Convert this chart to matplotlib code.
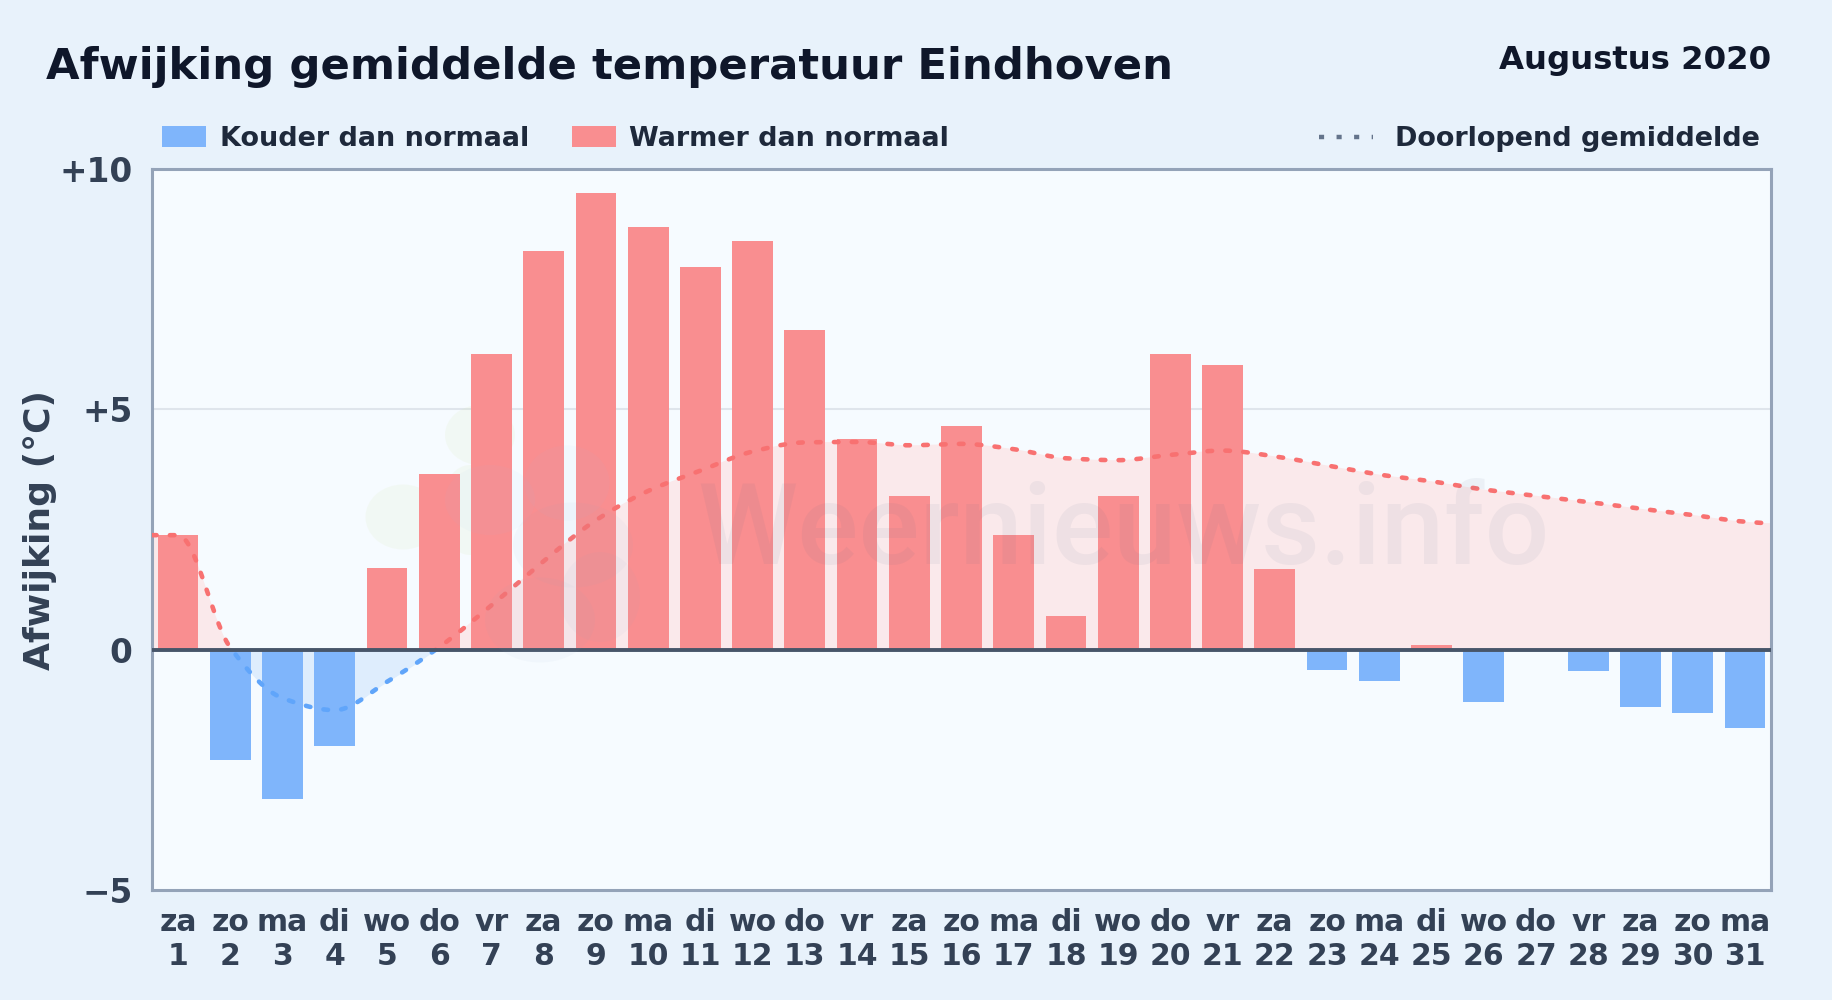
"""
Monthly temperature deviation bars for Eindhoven, August 2020.
"""
import matplotlib
matplotlib.use("Agg")
import matplotlib.pyplot as plt
import numpy as np
from matplotlib.lines import Line2D
from matplotlib.patches import Ellipse, Patch, Rectangle

days = list(range(1, 32))
weekdays = ["za", "zo", "ma", "di", "wo", "do", "vr", "za", "zo", "ma", "di", "wo", "do", "vr", "za", "zo",
            "ma", "di", "wo", "do", "vr", "za", "zo", "ma", "di", "wo", "do", "vr", "za", "zo", "ma"]
deviation = [2.38, -2.3, -3.1, -2.0, 1.7, 3.65, 6.15, 8.3, 9.5, 8.8, 7.95, 8.5, 6.65, 4.38, 3.2, 4.65,
             2.38, 0.7, 3.2, 6.15, 5.93, 1.67, -0.42, -0.65, 0.1, -1.1, 0.0, -0.45, -1.2, -1.33, -1.63]
running_mean = [2.38, 0.04, -1.01, -1.26, -0.67, 0.05, 0.92, 1.84, 2.69, 3.3, 3.72, 4.12, 4.31, 4.32, 4.25, 4.28,
                4.17, 3.98, 3.94, 4.05, 4.14, 4.02, 3.83, 3.64, 3.5, 3.33, 3.2, 3.07, 2.93, 2.8, 2.66]
y_ticks = [-5, 0, 5, 10]
y_tick_labels = ["\u22125", "0", "+5", "+10"]

RED = "#f98e90"
BLUE = "#7fb5fb"
TEXT = "#334155"


def smooth_curve(x, y, samples=40):
    # cubic hermite with monotone tangents, same look as the web chart
    x = np.asarray(x, dtype=float)
    y = np.asarray(y, dtype=float)
    slopes = np.diff(y) / np.diff(x)
    tangents = np.zeros_like(y)
    for i in range(1, len(y) - 1):
        if slopes[i - 1] * slopes[i] > 0:
            tangents[i] = 2 * slopes[i - 1] * slopes[i] / (slopes[i - 1] + slopes[i])
    xs, ys = [], []
    for i in range(len(x) - 1):
        t = np.linspace(0, 1, samples, endpoint=False)
        h = x[i + 1] - x[i]
        xs.append(x[i] + t * h)
        ys.append((2 * t**3 - 3 * t**2 + 1) * y[i] + (t**3 - 2 * t**2 + t) * h * tangents[i]
                  + (-2 * t**3 + 3 * t**2) * y[i + 1] + (t**3 - t**2) * h * tangents[i + 1])
    xs.append(x[-1:])
    ys.append(y[-1:])
    return np.concatenate(xs), np.concatenate(ys)


W, H = 1832, 1000
fig = plt.figure(figsize=(W / 100, H / 100), dpi=100, facecolor="#e8f2fb")
plt.rcParams["font.family"] = "DejaVu Sans"
ax = fig.add_axes([152 / W, 1 - 889.9 / H, 1619 / W, 721 / H], facecolor="#f6fbff")
ax.set_xlim(0.5, 31.5)
ax.set_ylim(-5, 10)

# line runs flat out to both panel edges
curve_x, curve_y = smooth_curve([0.5] + days + [31.5], [running_mean[0]] + running_mean + [2.63])
ax.fill_between(curve_x, 0, curve_y, where=curve_y >= 0, interpolate=True, color="#fae9eb", lw=0, zorder=1)
ax.fill_between(curve_x, 0, curve_y, where=curve_y <= 0, interpolate=True, color="#deedfd", lw=0, zorder=1)

colors = [RED if v >= 0 else BLUE for v in deviation]
ax.bar(days, deviation, width=0.78, color=colors, lw=0, zorder=2)

for color, clip_y, clip_h in [("#f87171", 0, 10), ("#60a5fa", -5, 5)]:
    line, = ax.plot(curve_x, curve_y, color=color, lw=3.3, dashes=(1, 2.9), dash_capstyle="round", zorder=3)
    line.set_clip_path(Rectangle((0.5, clip_y), 31, clip_h, transform=ax.transData))

ax.axhline(0, color="#475569", lw=2.8, zorder=4)
ax.axhline(5, color="#dfe5ec", lw=1.5, zorder=0.5)

ax.set_xticks(days)
ax.set_xticklabels([f"{d}\n{n}" for d, n in zip(weekdays, days)], fontsize=21.5, fontweight="bold", color=TEXT,
                   linespacing=1.22)
ax.set_yticks(y_ticks)
ax.set_yticklabels(y_tick_labels, fontsize=23.6, fontweight="bold", color=TEXT)
ax.tick_params(axis="x", length=0, pad=13)
ax.tick_params(axis="y", length=0, pad=14)
for spine in ax.spines.values():
    spine.set_color("#94a3b8")
    spine.set_linewidth(2.2)

fig.text(40 / W, 1 - 530 / H, "Afwijking (\u00b0C)", rotation=90, fontsize=26, fontweight="bold", color=TEXT,
         ha="center", va="center")
fig.text(46 / W, 1 - 67 / H, "Afwijking gemiddelde temperatuur Eindhoven", fontsize=31.2, fontweight="bold",
         color="#0f172a", va="center")
fig.text(1771 / W, 1 - 61 / H, "Augustus 2020", ha="right", fontsize=23.3, fontweight="bold", color="#0f172a",
         va="center")

legend_font = {"size": 19.45, "weight": "bold"}
left = fig.legend(handles=[Patch(color=BLUE, lw=0, label="Kouder dan normaal"),
                           Patch(color=RED, lw=0, label="Warmer dan normaal")],
                  loc="center left", bbox_to_anchor=(138 / W, 1 - 139 / H), ncol=2, frameon=False, prop=legend_font,
                  handlelength=1.62, handleheight=0.85, handletextpad=0.5, columnspacing=1.6, labelcolor="#1e293b")
right = fig.legend(handles=[Line2D([0], [0], color="#64748b", lw=3.2, dashes=(1.15, 2.8),
                                   label="Doorlopend gemiddelde")],
                   loc="center right", bbox_to_anchor=(1784 / W, 1 - 139 / H), frameon=False, prop=legend_font,
                   handlelength=2.0, handletextpad=0.8, labelcolor="#1e293b")

# faint site watermark: green sun part sits behind the bars, cloud part over them
logo_blobs = [(403, 517, 75, 65, "#d5e8a8", 0.12, 1.5), (480, 435, 70, 60, "#d5e8a8", 0.12, 1.5),
              (470, 510, 60, 90, "#d5e8a8", 0.12, 1.5), (490, 500, 90, 70, "#9fc2ee", 0.05, 5),
              (567, 483, 85, 75, "#9fc2ee", 0.05, 5), (573, 545, 120, 85, "#8fa8c8", 0.05, 5),
              (540, 620, 110, 85, "#8fa8c8", 0.05, 5), (600, 597, 80, 90, "#8fa8c8", 0.05, 5)]
for bx, by, bw, bh, bc, ba, bz in logo_blobs:
    ax.add_patch(Ellipse((bx / W, 1 - by / H), bw / W, bh / H, transform=fig.transFigure, color=bc, alpha=ba,
                         lw=0, zorder=bz))
ax.text(0.6, 0.495, "Weernieuws.info", transform=ax.transAxes, fontsize=82, color="#5b6a8c", alpha=0.07,
        family="Roboto", fontweight="medium", ha="center", va="center", zorder=5)

fig.savefig("out.png", dpi=100, facecolor=fig.get_facecolor())
